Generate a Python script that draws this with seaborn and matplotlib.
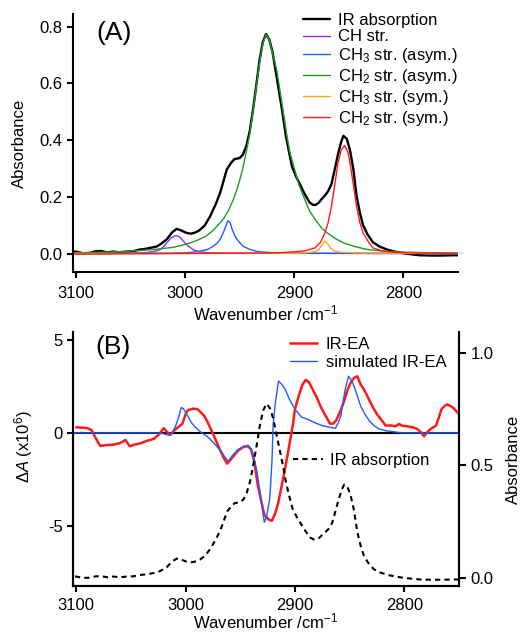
import matplotlib
matplotlib.use("Agg")
import matplotlib.pyplot as plt
import seaborn as sns

# --- dane ---

# (A) widmo IR (czarna linia) - uzywane tez jako linia przerywana w (B)
ir_wn = [3103, 3100, 3094, 3088, 3082, 3077, 3072, 3066, 3060, 3054, 3048, 3042, 3036, 3030, 3026,
         3022, 3017, 3012, 3008, 3004, 2999, 2995, 2991, 2987, 2982, 2977, 2972, 2968, 2965, 2962,
         2958, 2955, 2950, 2947, 2944, 2941, 2938, 2935, 2932, 2929, 2926, 2923, 2920, 2917, 2914,
         2911, 2908, 2905, 2902, 2898, 2894, 2890, 2886, 2883, 2881, 2878, 2875, 2872, 2869, 2866,
         2863, 2860, 2857, 2855, 2852, 2849, 2846, 2843, 2840, 2837, 2833, 2828, 2822, 2815, 2808,
         2800, 2792, 2785, 2775, 2765, 2755, 2750]
ir_abs = [0.006, 0.007, 0.001, 0.002, 0.008, 0.009, 0.004, 0.007, 0.004, 0.007, 0.008, 0.014, 0.017, 0.022, 0.025,
          0.035, 0.050, 0.075, 0.087, 0.082, 0.073, 0.070, 0.074, 0.082, 0.100, 0.133, 0.175, 0.215, 0.255, 0.296,
          0.320, 0.333, 0.337, 0.350, 0.380, 0.430, 0.505, 0.590, 0.680, 0.745, 0.774, 0.755, 0.710, 0.640, 0.570,
          0.500, 0.420, 0.360, 0.305, 0.268, 0.237, 0.206, 0.180, 0.172, 0.171, 0.178, 0.192, 0.205, 0.220, 0.245,
          0.296, 0.350, 0.395, 0.415, 0.405, 0.365, 0.300, 0.205, 0.145, 0.100, 0.068, 0.040, 0.025, 0.014, 0.007,
          0.001, -0.003, -0.006, -0.007, -0.007, -0.006, -0.006]

# skladowe dopasowania
ch_wn = [3103, 3050, 3035, 3028, 3023, 3020, 3017, 3013, 3010, 3008, 3005, 3002, 2999, 2995, 2992, 2987,
         2980, 2960, 2750]
ch_abs = [0.0, 0.001, 0.004, 0.008, 0.014, 0.024, 0.038, 0.055, 0.062, 0.063, 0.058, 0.045, 0.032, 0.020,
          0.012, 0.006, 0.003, 0.001, 0.0]

ch3a_wn = [3103, 3010, 2995, 2987, 2980, 2975, 2971, 2968, 2965, 2962, 2961, 2959, 2957, 2954, 2950, 2947,
           2941, 2935, 2925, 2910, 2880, 2750]
ch3a_abs = [0.0, 0.002, 0.004, 0.008, 0.014, 0.024, 0.036, 0.050, 0.075, 0.105, 0.116, 0.110, 0.085, 0.058,
            0.038, 0.026, 0.015, 0.008, 0.004, 0.002, 0.001, 0.0]

ch2a_wn = [3103, 3080, 3060, 3040, 3025, 3011, 3000, 2990, 2981, 2975, 2970, 2965, 2960, 2956, 2953, 2950,
           2947, 2944, 2941, 2938, 2935, 2932, 2929, 2926, 2923, 2920, 2916, 2913, 2910, 2907, 2904, 2900,
           2896, 2892, 2886, 2880, 2875, 2870, 2862, 2855, 2845, 2834, 2820, 2800, 2780, 2750]
ch2a_abs = [0.003, 0.004, 0.007, 0.011, 0.016, 0.022, 0.032, 0.045, 0.061, 0.080, 0.100, 0.122, 0.155, 0.190,
            0.222, 0.260, 0.305, 0.360, 0.420, 0.500, 0.585, 0.670, 0.740, 0.772, 0.755, 0.705, 0.645, 0.570,
            0.495, 0.420, 0.355, 0.300, 0.245, 0.205, 0.150, 0.115, 0.090, 0.073, 0.052, 0.038, 0.025, 0.015,
            0.009, 0.005, 0.003, 0.002]

ch3s_wn = [3103, 2900, 2888, 2882, 2878, 2875, 2872, 2870, 2867, 2864, 2858, 2845, 2750]
ch3s_abs = [0.0, 0.001, 0.003, 0.006, 0.012, 0.028, 0.044, 0.038, 0.020, 0.010, 0.005, 0.002, 0.0]

ch2s_wn = [3103, 2920, 2900, 2890, 2881, 2876, 2872, 2869, 2866, 2863, 2860, 2857, 2854, 2851, 2849, 2846,
           2843, 2840, 2837, 2832, 2828, 2820, 2810, 2790, 2750]
ch2s_abs = [-0.002, 0.002, 0.006, 0.010, 0.020, 0.040, 0.073, 0.110, 0.167, 0.240, 0.320, 0.365, 0.381, 0.360,
            0.320, 0.245, 0.167, 0.110, 0.073, 0.040, 0.020, 0.010, 0.005, 0.002, 0.0]

# (B) widmo IR-EA (czerwone) i symulowane (niebieskie), dA x10^6
ea_wn = [3100, 3095, 3090, 3086, 3082, 3078, 3072, 3066, 3060, 3055, 3051, 3046, 3041, 3035, 3029, 3024,
         3020, 3017, 3014, 3010, 3007, 3003, 3000, 2998, 2993, 2989, 2986, 2983, 2980, 2977, 2973, 2969,
         2965, 2962, 2957, 2952, 2947, 2943, 2940, 2937, 2934, 2931, 2928, 2924, 2921, 2918, 2915, 2912,
         2909, 2905, 2902, 2900, 2896, 2893, 2890, 2887, 2884, 2880, 2876, 2872, 2868, 2865, 2862, 2859,
         2855, 2852, 2849, 2846, 2843, 2840, 2837, 2834, 2831, 2828, 2825, 2821, 2817, 2812, 2808, 2805,
         2802, 2797, 2792, 2788, 2785, 2782, 2778, 2775, 2771, 2768, 2766, 2763, 2761, 2757, 2754, 2750]
ea_val = [0.30, 0.28, 0.26, 0.15, -0.30, -0.70, -0.65, -0.63, -0.55, -0.38, -0.72, -0.62, -0.55, -0.42, -0.32,
          -0.05, 0.25, 0.05, -0.10, 0.15, 0.30, 0.48, 1.00, 1.22, 1.30, 1.27, 1.10, 0.92, 0.60, 0.21, -0.30,
          -0.85, -1.35, -1.65, -1.30, -0.94, -0.75, -0.71, -0.90, -1.60, -2.80, -3.60, -4.40, -4.65, -4.71,
          -4.30, -3.68, -2.80, -1.91, -0.60, 0.40, 1.27, 2.10, 2.60, 2.85, 2.70, 2.35, 1.90, 1.35, 0.92, 0.50,
          0.50, 0.70, 1.10, 1.70, 2.30, 2.70, 2.95, 3.04, 2.60, 2.34, 2.00, 1.63, 1.30, 1.00, 0.70, 0.39, 0.40,
          0.35, 0.48, 0.39, 0.35, 0.30, 0.20, 0.05, -0.18, 0.10, 0.25, 0.39, 0.90, 1.27, 1.45, 1.53, 1.42,
          1.27, 1.00]

sim_wn = [3103, 3030, 3022, 3018, 3014, 3011, 3009, 3006, 3004, 3002, 3000, 2997, 2995, 2991, 2986, 2980,
          2975, 2971, 2967, 2964, 2961, 2957, 2952, 2947, 2943, 2940, 2938, 2935, 2932, 2930, 2928, 2926,
          2923, 2921, 2920, 2918, 2915, 2912, 2909, 2905, 2900, 2894, 2888, 2882, 2875, 2868, 2863, 2860,
          2858, 2856, 2854, 2851, 2848, 2846, 2843, 2840, 2836, 2832, 2828, 2823, 2817, 2811, 2802, 2750]
sim_val = [0.0, 0.0, -0.02, -0.08, -0.14, 0.15, 0.39, 0.90, 1.36, 1.30, 1.10, 0.80, 0.57, 0.30, 0.04, -0.20,
           -0.49, -0.75, -1.03, -1.30, -1.52, -1.20, -0.89, -0.72, -0.67, -0.85, -1.20, -2.00, -3.15, -4.00,
           -4.80, -4.50, -3.51, -1.50, 0.39, 1.60, 2.78, 2.60, 2.34, 1.80, 1.27, 0.85, 0.72, 0.55, 0.39, 0.30,
           0.25, 0.60, 0.92, 1.70, 2.34, 3.04, 2.80, 2.51, 2.00, 1.45, 1.00, 0.65, 0.40, 0.21, 0.12, 0.07, 0.0,
           0.0]

comp_labels = ['IR absorption', 'CH str.', 'CH$_3$ str. (asym.)', 'CH$_2$ str. (asym.)',
               'CH$_3$ str. (sym.)', 'CH$_2$ str. (sym.)']
comp_colors = ['black', '#8f2df0', '#1f5cff', '#1f9a1f', '#ffa31a', '#ff1a1a']

# --- styl ---
sns.set_theme(style='ticks')
plt.rcParams['font.family'] = ['Liberation Sans', 'DejaVu Sans']
plt.rcParams.update({
    'mathtext.fontset': 'custom',
    'mathtext.rm': 'Liberation Sans',
    'mathtext.it': 'Liberation Sans:italic',
    'mathtext.bf': 'Liberation Sans:bold',
    'axes.unicode_minus': False,
    'font.size': 12,
    'axes.labelsize': 12,
    'xtick.labelsize': 12,
    'ytick.labelsize': 12,
    'legend.fontsize': 12,
    'axes.linewidth': 1.5,
    'xtick.major.width': 1.5,
    'ytick.major.width': 1.5,
    'xtick.major.size': 4,
    'ytick.major.size': 4,
    'xtick.major.pad': 6,
    'ytick.major.pad': 3.5,
    'axes.edgecolor': 'black',
    'text.color': 'black',
    'axes.labelcolor': 'black',
    'xtick.color': 'black',
    'ytick.color': 'black',
})

fig = plt.figure(figsize=(5.21, 6.34), dpi=100)
ax_a = fig.add_axes([0.140, 0.571, 0.739, 0.407])
ax_b = fig.add_axes([0.140, 0.076, 0.741, 0.400])

# --- panel (A) ---
sns.lineplot(x=ir_wn, y=ir_abs, ax=ax_a, color=comp_colors[0], linewidth=1.7, label=comp_labels[0])
comps = [(ch_wn, ch_abs), (ch3a_wn, ch3a_abs), (ch2a_wn, ch2a_abs), (ch3s_wn, ch3s_abs), (ch2s_wn, ch2s_abs)]
for (wn, ab), lab, col in zip(comps, comp_labels[1:], comp_colors[1:]):
    sns.lineplot(x=wn, y=ab, ax=ax_a, color=col, linewidth=1.0, label=lab)

ax_a.set_xlim(3103, 2750)
ax_a.set_ylim(-0.065, 0.845)
ax_a.set_xticks([3100, 3000, 2900, 2800])
ax_a.set_yticks([0.0, 0.2, 0.4, 0.6, 0.8])
ax_a.set_yticklabels(['0.0', '0.2', '0.4', '0.6', '0.8'])
ax_a.set_xlabel('Wavenumber /cm$^{-1}$', labelpad=2)
ax_a.set_ylabel('Absorbance', labelpad=9)
sns.despine(ax=ax_a)
ax_a.legend(loc='upper left', bbox_to_anchor=(0.597, 1.005), frameon=False, borderpad=0, borderaxespad=0,
            handlelength=1.65, handletextpad=0.45, labelspacing=0.11)
ax_a.text(0.062, 0.926, '(A)', transform=ax_a.transAxes, fontsize=19, va='center')

# --- panel (B) ---
ax_b.axhline(0, color='black', linewidth=1.5, zorder=1)
sns.lineplot(x=ea_wn, y=ea_val, ax=ax_b, color='#ff1a1a', linewidth=1.8, label='IR-EA', zorder=3)
sns.lineplot(x=sim_wn, y=sim_val, ax=ax_b, color='#1f5cff', linewidth=1.0, label='simulated IR-EA', zorder=4)
ax_b.set_xlim(3103, 2750)
ax_b.set_ylim(-8.2, 5.4)
ax_b.set_xticks([3100, 3000, 2900, 2800])
ax_b.set_yticks([-5, 0, 5])
ax_b.tick_params(axis='x', pad=4.5)
ax_b.set_xlabel('Wavenumber /cm$^{-1}$', labelpad=-1)
ax_b.set_ylabel('$\\Delta\\mathit{A}$ (x10$^{6}$)')
ax_b.yaxis.set_label_coords(-0.098, 0.55)
ax_b.legend(loc='upper left', bbox_to_anchor=(0.562, 0.98), frameon=False, borderpad=0, borderaxespad=0,
            handlelength=1.65, handletextpad=0.5, labelspacing=0.17)
ax_b.text(0.057, 0.941, '(B)', transform=ax_b.transAxes, fontsize=19, va='center')

ax_r = ax_b.twinx()
sns.lineplot(x=ir_wn, y=ir_abs, ax=ax_r, color='black', linewidth=1.5, linestyle=(0, (2.5, 2)),
             label='IR absorption')
ax_r.set_ylim(-0.034, 1.091)
ax_r.set_yticks([0.0, 0.5, 1.0])
ax_r.set_yticklabels(['0.0', '0.5', '1.0'])
ax_r.set_ylabel('Absorbance', labelpad=9)
ax_r.legend(loc='upper left', bbox_to_anchor=(0.57, 0.525), frameon=False, borderpad=0, borderaxespad=0,
            handlelength=1.8, handletextpad=0.45)
for a in (ax_b, ax_r):
    a.spines['top'].set_visible(False)
ax_r.tick_params(axis='y', length=5)

fig.savefig('out.png', dpi=100)
